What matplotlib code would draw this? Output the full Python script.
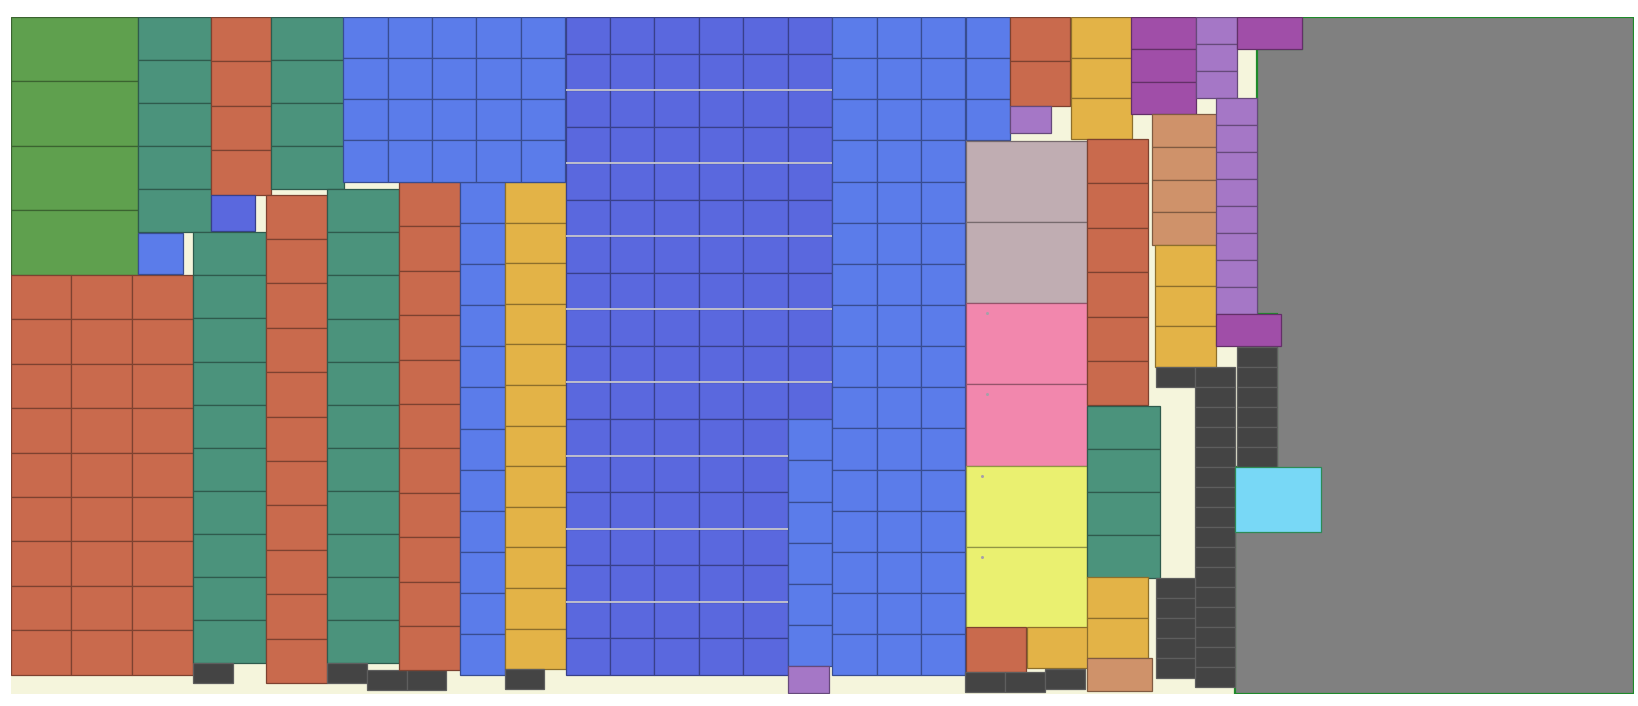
import matplotlib
matplotlib.use("Agg")
import matplotlib.pyplot as plt
from matplotlib.patches import Rectangle, Polygon
import matplotlib.colors as mcolors

W, H = 1638, 706
X0, X1, Y0, Y1 = 10.7, 1634.3, 17.0, 693.8

# category colours
colors = {
    "green": "#5FA04E", "red": "#C96A4D", "teal": "#4B937C", "lblue": "#5B7CEA",
    "dblue": "#5A68DE", "yellow": "#E3B347", "dark": "#444444", "lpurple": "#A577C6",
    "dpurple": "#A04EA8", "tan": "#CF926A", "mauve": "#C0ADB2", "pink": "#F287AD",
    "lime": "#EAF070", "cyan": "#78D8F6",
}
# unit tile size per category (px)
tile_w = {"green": 127.5, "red": 60.8, "teal": 72.5, "lblue": 44.4, "dblue": 44.4,
          "yellow": 61.0, "dark": 39.8, "lpurple": 41.0, "dpurple": 65.0, "tan": 64.8,
          "mauve": 121.6, "pink": 121.6, "lime": 121.6, "cyan": 85.7}
tile_h = {"green": 64.5, "red": 44.4, "teal": 43.1, "lblue": 41.15, "dblue": 36.55,
          "yellow": 40.6, "dark": 20.0, "lpurple": 27.0, "dpurple": 32.5, "tan": 32.7,
          "mauve": 81.0, "pink": 81.3, "lime": 81.0, "cyan": 65.0}

# blocks: category, columns, rows
block_kind = ["green", "red", "teal", "lblue", "red", "dblue", "teal", "teal", "dark", "red",
              "teal", "dark", "dark", "red", "lblue", "yellow", "dark", "lblue", "dblue", "dblue",
              "lblue", "lpurple", "lblue", "lblue", "mauve", "pink", "lime", "red", "yellow", "dark",
              "dark", "red", "lpurple", "yellow", "dpurple", "lpurple", "dpurple", "red", "teal", "yellow",
              "tan", "tan", "yellow", "dark", "dark", "dark", "lpurple", "dpurple", "dark", "cyan"]
block_cols = [1, 3, 1, 1, 1, 1, 1, 1, 1, 1,
              1, 1, 2, 1, 1, 1, 1, 5, 5, 1,
              1, 1, 3, 1, 1, 1, 1, 1, 1, 2,
              1, 1, 1, 1, 1, 1, 1, 1, 1, 1,
              1, 1, 1, 1, 1, 1, 1, 1, 1, 1]
block_rows = [4, 9, 5, 1, 4, 1, 4, 10, 1, 11,
              11, 1, 1, 11, 12, 12, 1, 4, 18, 11,
              6, 1, 16, 3, 2, 2, 2, 1, 1, 1,
              1, 2, 1, 3, 3, 3, 1, 6, 4, 2,
              1, 4, 3, 1, 16, 5, 8, 1, 6, 1]
# layout: top-left corner of each block (px)
block_x = [10.7, 10.7, 138.2, 138.2, 210.7, 210.7, 271.4, 193.2, 193.2, 266.1,
           326.8, 327.1, 366.8, 398.9, 460.4, 504.6, 504.6, 343.2, 565.7, 787.7,
           787.7, 787.7, 832.3, 965.7, 965.7, 965.7, 965.7, 965.7, 1026.7, 965.0,
           1045.0, 1009.7, 1009.7, 1070.7, 1131.3, 1196.3, 1237.3, 1087.3, 1087.3, 1087.3,
           1087.3, 1152.0, 1155.0, 1155.7, 1195.3, 1155.7, 1216.3, 1216.3, 1237.0, 1235.3]
block_y = [17.0, 275.0, 17.0, 232.7, 17.0, 194.6, 17.0, 232.3, 662.7, 194.7,
           189.3, 662.7, 670.0, 182.0, 181.7, 182.0, 669.3, 17.0, 17.0, 17.0,
           419.3, 666.0, 17.0, 17.0, 141.0, 303.0, 465.7, 627.3, 627.3, 672.3,
           668.7, 17.0, 106.0, 17.0, 17.0, 17.0, 17.0, 139.0, 405.7, 577.3,
           658.3, 114.3, 245.0, 366.7, 366.7, 577.7, 97.7, 314.0, 347.3, 467.3]

# large grey region outline
grey_x = [1301.7, 1634.3, 1634.3, 1235.3, 1235.3, 1277.3, 1277.3, 1257.3, 1257.3, 1301.7]
grey_y = [17.0, 17.0, 694.3, 694.3, 467.3, 467.3, 314.0, 314.0, 49.3, 49.3]

# tiny marker offsets inside some large tiles
marker_offset = {"pink": (21.8, 10.0), "lime": (16.5, 10.3)}


def darken(c, f=0.72):
    r, g, b = mcolors.to_rgb(c)
    return (r * f, g * f, b * f)


fig = plt.figure(figsize=(W / 100, H / 100), dpi=100)
fig.patch.set_facecolor("white")
ax = fig.add_axes([X0 / W, 1 - Y1 / H, (X1 - X0) / W, (Y1 - Y0) / H])
ax.set_xlim(X0, X1)
ax.set_ylim(Y1, Y0)
ax.set_facecolor("#F5F5DC")
ax.set_xticks([])
ax.set_yticks([])
for s in ax.spines.values():
    s.set_visible(False)

ax.add_patch(Polygon(list(zip(grey_x, grey_y)), closed=True, facecolor="#808080",
                     edgecolor="#1E8A2A", linewidth=1.6, zorder=1))

for kind, nc, nr, bx, by in zip(block_kind, block_cols, block_rows, block_x, block_y):
    tw, th = tile_w[kind], tile_h[kind]
    fc = colors[kind]
    ec = "#5E5E5E" if kind == "dark" else ("#2E8A55" if kind == "cyan" else darken(fc, 0.62))
    for i in range(nc):
        for j in range(nr):
            ax.add_patch(Rectangle((bx + i * tw, by + j * th), tw, th, facecolor=fc,
                                   edgecolor=ec, linewidth=0.9, zorder=2))
            if kind in marker_offset:
                ox, oy = marker_offset[kind]
                ax.plot(bx + i * tw + ox, by + j * th + oy, marker="o", markersize=2.2,
                        color="#A8A0A8", markeredgewidth=0, zorder=3)

# light separators between two-row groups of the dark-blue block
db = block_kind.index("dblue", 6)
db_y0 = block_y[db]
for k in range(1, 9):
    yy = db_y0 + 2 * k * tile_h["dblue"]
    ncols = 6 if yy < 419 else 5
    ax.plot([block_x[db], block_x[db] + ncols * tile_w["dblue"]], [yy, yy],
            color="#C8C8D0", linewidth=1.3, zorder=3, solid_capstyle="butt")

fig.savefig("out.png", dpi=100, facecolor="white")
